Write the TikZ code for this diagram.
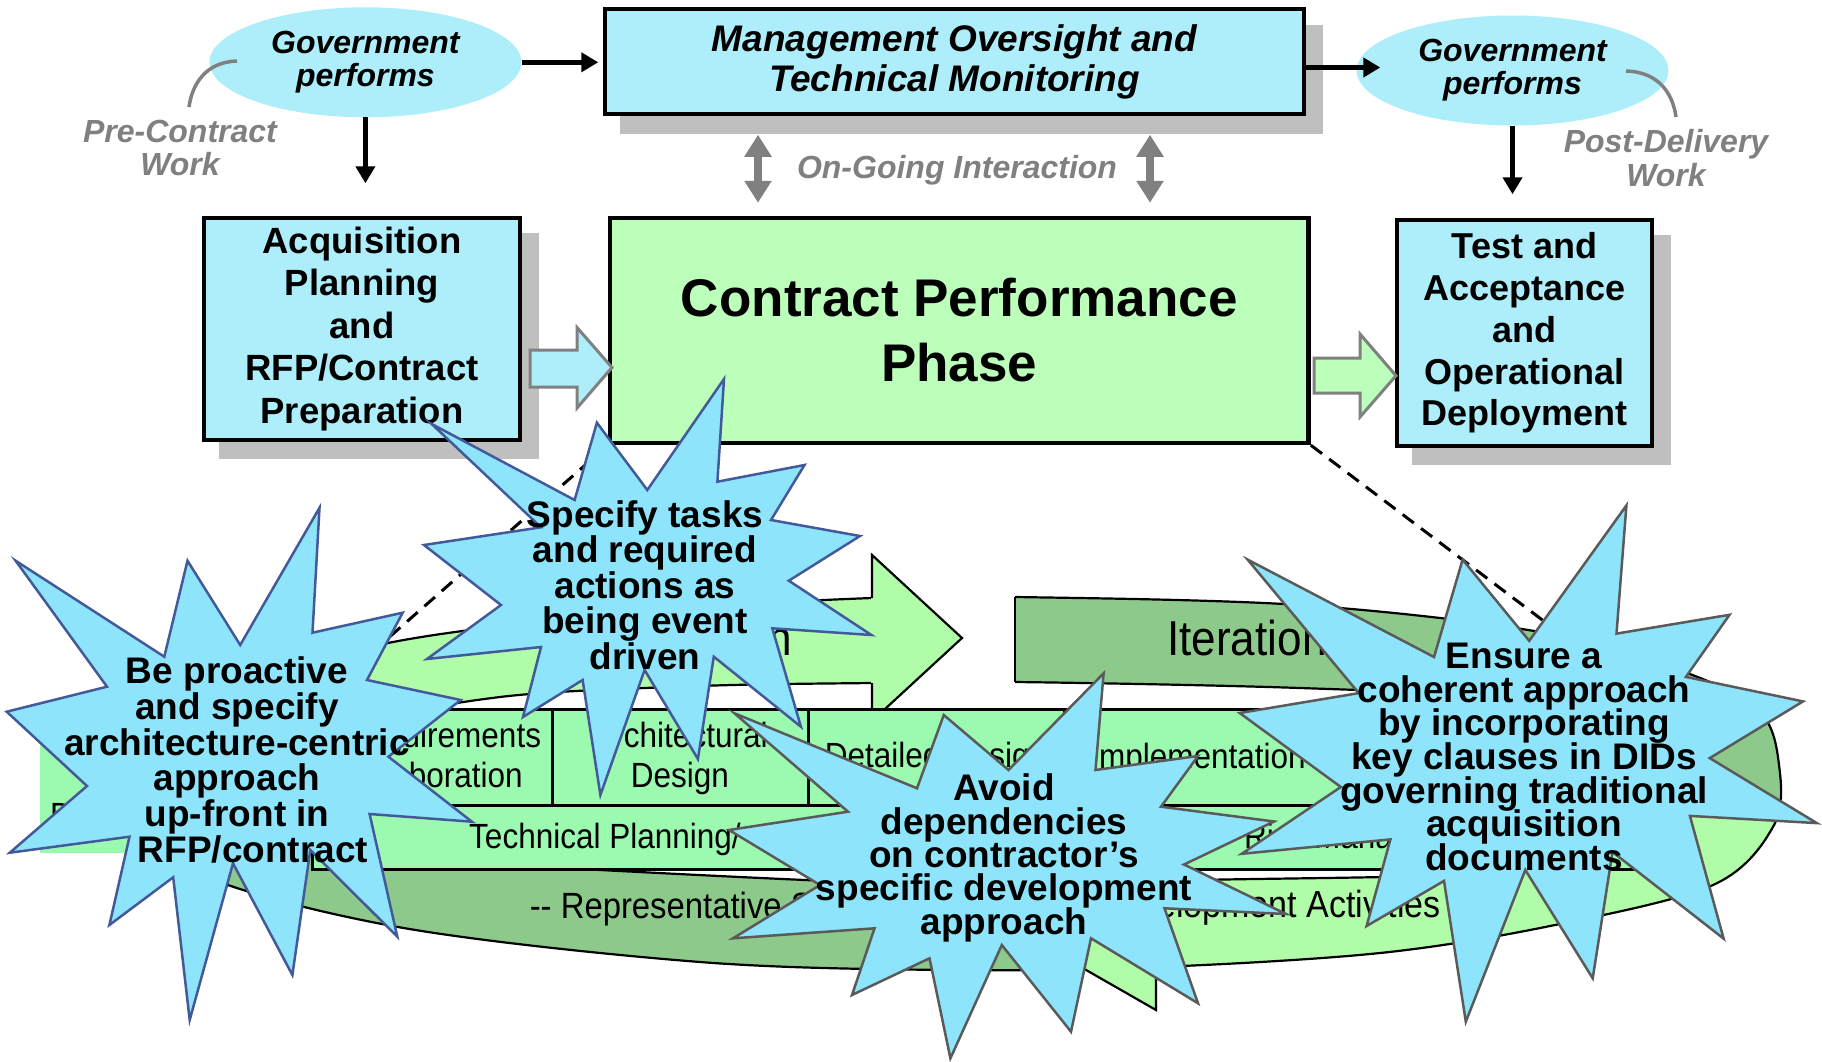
\documentclass[tikz,border=0pt]{standalone}
\usepackage{fontspec}
\setmainfont{Liberation Sans}
\newfontfamily\narrowfont[FakeStretch=0.9]{Liberation Sans}
\usetikzlibrary{arrows.meta,shapes.geometric,calc}
\pgfdeclarelayer{shadowlayer}
\pgfsetlayers{shadowlayer,main}
\definecolor{boxcyan}{HTML}{ADEEFA}
\definecolor{boxgreen}{HTML}{BBFFBB}
\definecolor{shadowgray}{HTML}{BFBFBF}
\definecolor{midgray}{HTML}{808080}
\definecolor{ringlight}{HTML}{B0FCA8}
\definecolor{ringdark}{HTML}{8DC98B}
\definecolor{barcolor}{HTML}{9BFAB0}
\definecolor{burstfill}{HTML}{8EE5FB}
\definecolor{burstblue}{HTML}{44599A}
\definecolor{burstgray}{HTML}{5A5A5A}
\def\ringouter{plot[smooth cycle, tension=0.55] coordinates {(110,790) (190,700) (393,642) (650,611) (872,598) (1015,597) (1300,605) (1540,632) (1687,673) (1760,712) (1779,765) (1774,825) (1713,885) (1550,926) (1380,953) (1158,967) (950,970) (700,962) (398,927) (190,870)}}
\def\ringinner{plot[smooth cycle, tension=0.55] coordinates {(300,795) (360,728) (500,697) (700,686) (872,683) (1015,682) (1300,688) (1530,700) (1640,730) (1668,790) (1645,850) (1500,873) (1198,880) (950,885) (600,870) (420,858) (330,840)}}
\begin{document}
\lineskiplimit=-100pt
\begin{tikzpicture}[x=1pt, y=-1pt,
  box/.style={draw=black, line width=3.5pt, fill=boxcyan, inner sep=0pt, align=center},
  govell/.style={ellipse, fill=boxcyan, inner sep=0pt, minimum width=312pt, minimum height=110pt, align=center, font=\fontsize{32}{33}\selectfont\bfseries\itshape},
  graylabel/.style={text=midgray, align=center, inner sep=0pt, font=\fontsize{32}{33.5}\selectfont\bfseries\itshape},
  blk/.style={draw=black, line width=4.5pt, -{Triangle[length=17pt,width=19pt]}},
  dbl/.style={draw=midgray, line width=8pt, {Triangle[length=22pt,width=26pt]}-{Triangle[length=22pt,width=26pt]}},
  curveline/.style={draw=midgray, line width=3.5pt},
  blockarrow/.style={draw=midgray, line width=3pt, line join=miter},
  dashline/.style={draw=black, line width=3pt, dash pattern=on 14pt off 9pt},
  ringline/.style={draw=black, line width=2.2pt},
  bartext/.style={inner sep=0pt, align=center, font=\narrowfont\fontsize{35}{40}\selectfont},
  burst/.style={fill=burstfill, line width=2.5pt, line join=miter},
  bursttext/.style={inner sep=0pt, align=center},
]
\useasboundingbox (0,0) rectangle (1822,1062);

% ---------- top row ----------
\node[govell] (gov1) at (365.4,62.3) {Government\\performs};
\node[box, minimum width=699pt, minimum height=105pt,
      font=\fontsize{37}{40}\selectfont\bfseries\itshape] (mgmt) at (954.5,61.5)
      {Management Oversight and\\Technical Monitoring};
\node[govell] (gov2) at (1512.5,70.5) {Government\\performs};

\node[box, minimum width=316pt, minimum height=222pt,
      font=\fontsize{36.5}{42.5}\selectfont\bfseries] (acq) at (362,329)
      {Acquisition\\Planning\\and\\RFP/Contract\\Preparation};
\node[box, fill=boxgreen, line width=4.5pt, minimum width=698.6pt, minimum height=225pt,
      font=\fontsize{53}{65}\selectfont\bfseries] (contract) at (959.3,330.5)
      {Contract Performance\\Phase};
\node[box, minimum width=255pt, minimum height=226pt,
      font=\fontsize{36}{41.75}\selectfont\bfseries] (test) at (1524.5,333)
      {Test and\\Acceptance\\and\\Operational\\Deployment};

\begin{pgfonlayer}{shadowlayer}
  \fill[shadowgray] ([shift={(17,18)}]mgmt.south west) rectangle ([shift={(17,18)}]mgmt.north east);
  \fill[shadowgray] ([shift={(17,17)}]acq.south west) rectangle ([shift={(17,17)}]acq.north east);
  \fill[shadowgray] ([shift={(17,17)}]test.south west) rectangle ([shift={(17,17)}]test.north east);
\end{pgfonlayer}

% labels and curves
\node[graylabel] (pre) at (180,147.8) {Pre-Contract\\Work};
\node[graylabel] (post) at (1666,158.3) {Post-Delivery\\Work};
\draw[curveline] (237,61) .. controls (205,62) and (192,85) .. (189,107);
\draw[curveline] (1626,71) .. controls (1660,72) and (1673,95) .. (1676,117);
\node[inner sep=0pt, anchor=base, text=midgray, font=\fontsize{32}{33}\selectfont\bfseries\itshape]
  (ongoing) at (957,178) {On-Going Interaction};

% connectors
\draw[blk, shorten >=5pt] (gov1.east) -- (gov1.east -| mgmt.west);
\draw[blk, shorten >=33pt] (gov1.south) -- (gov1.south |- acq.north);
\draw[blk, shorten >=-24pt] ([yshift=-6pt]mgmt.east) -- ([yshift=-6pt]mgmt.east -| gov2.west);
\draw[blk, shorten >=24pt] (gov2.south) -- (gov2.south |- test.north);
\coordinate (ixl) at (758,0);
\coordinate (ixr) at (1150,0);
\draw[dbl, shorten <=19pt, shorten >=13pt] (mgmt.south -| ixl) -- (contract.north -| ixl);
\draw[dbl, shorten <=19pt, shorten >=13pt] (mgmt.south -| ixr) -- (contract.north -| ixr);

% block arrows
\filldraw[blockarrow, fill=boxcyan] (530,350) -- (577,350) -- (577,327.5) -- (612,367.5) -- (577,408) -- (577,387) -- (530,387) -- cycle;
\filldraw[blockarrow, fill=boxgreen] (1314,358) -- (1360,358) -- (1360,334) -- (1396,375.7) -- (1360,417) -- (1360,393) -- (1314,393) -- cycle;

% dashed lines
\coordinate (dl) at (386,640);
\coordinate (dr) at (1598,662);
\draw[dashline] (contract.south west) -- (dl);
\draw[dashline] (contract.south east) -- (dr);

% ---------- iteration ring ----------
\begin{scope}
  \clip (0,0) -- (300,0) -- (300,783) -- (1100,783) -- (1100,1062) -- (0,1062) -- cycle;
  \fill[ringdark, even odd rule] \ringouter \ringinner;
  \draw[ringline] \ringouter \ringinner;
\end{scope}
\begin{scope}
  \clip (300,0) rectangle (872,783);
  \fill[ringlight, even odd rule] \ringouter \ringinner;
  \draw[ringline] \ringouter \ringinner;
\end{scope}
\fill[ringlight] (871,555) -- (962,638) -- (871,721) -- cycle;
\draw[ringline] (872,598) -- (872,555) -- (962,638) -- (872,721) -- (872,683);
\begin{scope}
  \clip (1015,0) rectangle (1822,815);
  \fill[ringdark, even odd rule] \ringouter \ringinner;
  \draw[ringline] \ringouter \ringinner;
\end{scope}
\draw[ringline] (1015,597) -- (1015,682);
\begin{scope}
  \clip (1156,815) rectangle (1822,1062);
  \fill[ringlight, even odd rule] \ringouter \ringinner;
  \draw[ringline] \ringouter \ringinner;
\end{scope}
\fill[ringlight] (1157,836) -- (1004,923) -- (1157,1010) -- cycle;
\draw[ringline] (1156,880) -- (1156,836) -- (1004,923) -- (1156,1010) -- (1156,967);

\node[inner sep=0pt, anchor=base east, font=\narrowfont\fontsize{49}{49}\selectfont] (iter1) at (792,655) {Iteration};
\node[inner sep=0pt, anchor=base west, font=\narrowfont\fontsize{49}{49}\selectfont] (iter2) at (1167,655) {Iteration};
\node[inner sep=0pt, anchor=base west, font=\narrowfont\fontsize{36.5}{40}\selectfont] (rep) at (529.6,918) {-{}- Representative Software};
\node[inner sep=0pt, anchor=base east, font=\narrowfont\fontsize{37.8}{40}\selectfont] (devact) at (1441,917) {Development Activities};

% process bar
\fill[barcolor] (40,725) rectangle (312,853);
\node[bartext, anchor=base west] (dlabel) at (50,827) {D};
\node[draw=black, line width=3pt, fill=barcolor, minimum width=1348pt, minimum height=160pt, inner sep=0pt] (bar) at (986,789) {};
\draw[line width=3pt] (bar.west |- 0,805) -- (bar.east |- 0,805);
\draw[line width=3pt] (552,709) -- (552,805);
\draw[line width=3pt] (808,709) -- (808,805);
\draw[line width=3pt] (1064,709) -- (1064,805);
\node[bartext] (req) at (443,755.3) {Requirements\\Elaboration};
\node[bartext] (arch) at (680,758.9) {Architectural\\Design};
\node[bartext, anchor=base] (det) at (936,767) {Detailed Design};
\node[bartext, anchor=base] (impl) at (1198,768) {Implementation};
\node[bartext, anchor=base west] (tech) at (469,848) {Technical Planning/};
\node[bartext, anchor=base west] (risk) at (1244,848) {Risk Management};

% ---------- starbursts ----------
\filldraw[burst, draw=burstblue] (15.6,560.7) -- (164.3,656.7) -- (187.5,560.7) -- (240.2,645) -- (319.5,507.8) -- (312.5,632.7) -- (402.7,612.7) -- (367,680) -- (460.7,700) -- (388.4,756.7) -- (471.9,821.7) -- (369.6,814) -- (397.3,936.7) -- (310.3,850) -- (292.4,975) -- (233,863.3) -- (189.7,1020) -- (173.2,877.3) -- (109.4,925) -- (129.5,836.7) -- (9.8,852.7) -- (87,786) -- (6.7,711.7) -- (107,686.7) -- cycle;
\node[bursttext, font=\fontsize{37}{35.8}\selectfont\bfseries] (burstA) at (237,760)
  {Be proactive\\and specify\\architecture-centric\\approach\\up-front in\\\hspace*{32pt}RFP/contract};

\filldraw[burst, draw=burstblue] (431.7,424) -- (574.6,500) -- (596.9,422.7) -- (647.3,490) -- (724,379) -- (717.4,481.7) -- (804.5,465) -- (771,520) -- (860,536) -- (788.8,580.7) -- (871.4,635) -- (772.3,628.3) -- (800.9,726.7) -- (713.8,656.7) -- (697.9,759) -- (644.6,670) -- (600.4,795) -- (582.6,680) -- (523,717) -- (541,647) -- (427,659) -- (501,605) -- (424,545) -- (541,527.3) -- cycle;
\node[bursttext, font=\fontsize{37}{35.6}\selectfont\bfseries] (burstB) at (645,585)
  {Specify tasks\\and required\\actions as\\being event\\driven};

\filldraw[burst, draw=burstgray] (1103.6,673.3) -- (1095.5,770) -- (1198,756) -- (1161,806.7) -- (1274,821.5) -- (1184,864.5) -- (1286,914) -- (1164.5,908.3) -- (1198,1003.3) -- (1091,938.3) -- (1071,1031.7) -- (1001.8,945) -- (950.4,1058.3) -- (929.5,958.3) -- (852,995) -- (874.5,928.3) -- (733,938.3) -- (820,885) -- (729,830) -- (848,811.7) -- (734.5,713.3) -- (917,788.3) -- (943.75,715) -- (1008.5,770) -- cycle;
\node[bursttext, font=\fontsize{37}{33.3}\selectfont\bfseries] (burstC) at (1004,858)
  {Avoid\\dependencies\\on contractor’s\\specific development\\approach};

\filldraw[burst, draw=burstgray] (1247.6,559.6) -- (1434,657) -- (1462.6,559.6) -- (1529.2,640.8) -- (1626.4,505.4) -- (1616.5,633.6) -- (1729.5,614.8) -- (1685.9,676.9) -- (1803,701.4) -- (1709.7,758.1) -- (1816.8,823.1) -- (1689.9,815.9) -- (1723.6,938.6) -- (1612.5,852) -- (1592.7,978.3) -- (1525.3,870) -- (1465.8,1021.7) -- (1444,880.9) -- (1366.6,926) -- (1390.4,839.4) -- (1241.7,853.8) -- (1340.8,787) -- (1239.7,713) -- (1358.7,693.1) -- cycle;
\node[bursttext, font=\fontsize{37}{33.6}\selectfont\bfseries] (burstD) at (1524,757)
  {Ensure a\\coherent approach\\by incorporating\\key clauses in DIDs\\governing traditional\\acquisition\\documents};
\end{tikzpicture}
\end{document}
